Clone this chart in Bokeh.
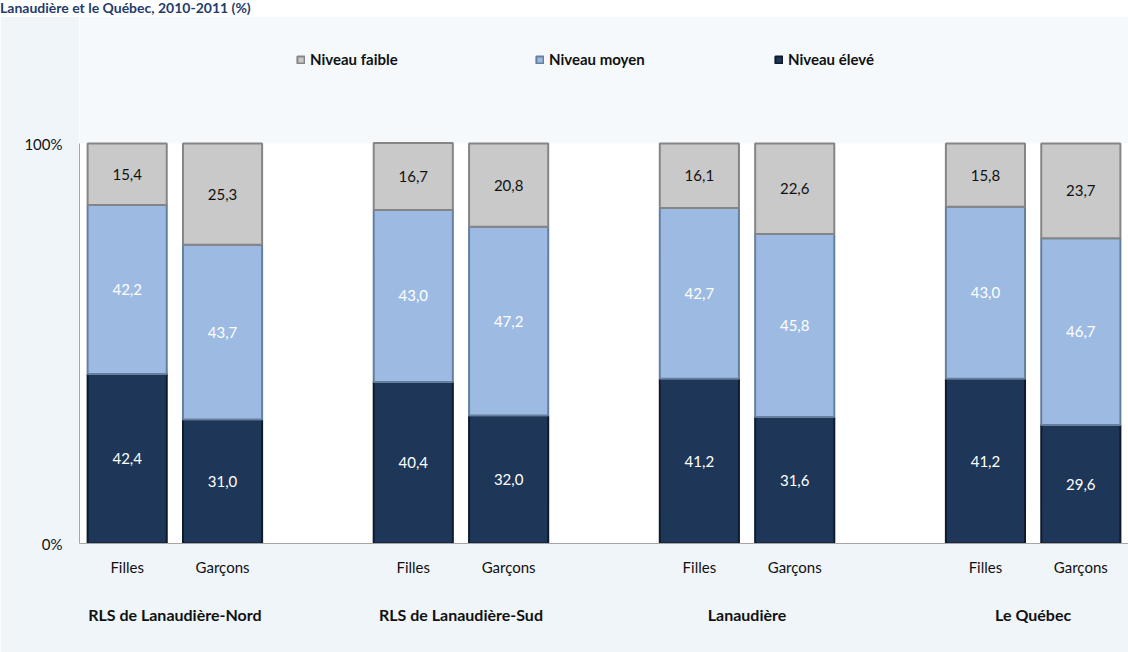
from bokeh.plotting import figure
from bokeh.models import (ColumnDataSource, FixedTicker, LinearAxis, Legend,
                          LegendItem, Range1d, Div, BoxAnnotation)
from bokeh.layouts import column
from bokeh.core.properties import value
from bokeh.embed import file_html
from bokeh.resources import INLINE

# ---------------- data ----------------
regions = ["RLS de Lanaudière-Nord", "RLS de Lanaudière-Sud", "Lanaudière", "Le Québec"]
sexes = ["Filles", "Garçons"]
eleve = [42.4, 31.0, 40.4, 32.0, 41.2, 31.6, 41.2, 29.6]
moyen = [42.2, 43.7, 43.0, 47.2, 42.7, 45.8, 43.0, 46.7]
faible = [15.4, 25.3, 16.7, 20.8, 16.1, 22.6, 15.8, 23.7]
series_names = ["Niveau faible", "Niveau moyen", "Niveau élevé"]
y_ticks = [0, 100]
y_tick_labels = ["0%", "100%"]
title_text = "Lanaudière et le Québec, 2010-2011 (%)"

FONT = "Lato"

# positions: two bars per region, one empty slot between regions
xs = []
for gi in range(len(regions)):
    for si in range(len(sexes)):
        xs.append(gi * 3 + si)
group_centers = [gi * 3 + 0.5 for gi in range(len(regions))]

def fr(v):
    return f"{v:.1f}".replace(".", ",")

b0 = [0.0] * len(xs)
t0 = eleve
b1 = eleve
t1 = [e + m for e, m in zip(eleve, moyen)]
b2 = t1
t2 = [a + f for a, f in zip(t1, faible)]

src = ColumnDataSource(dict(
    x=xs, b0=b0, t0=t0, b1=b1, t1=t1, b2=b2, t2=t2,
    y0=[(a + b) / 2 for a, b in zip(b0, t0)],
    y1=[(a + b) / 2 for a, b in zip(b1, t1)],
    y2=[(a + b) / 2 for a, b in zip(b2, t2)],
    l0=[fr(v) for v in eleve],
    l1=[fr(v) for v in moyen],
    l2=[fr(v) for v in faible],
))

TITLE_H = 16
FIG_H = 652 - TITLE_H
BOTTOM = 109
frame_h = FIG_H - BOTTOM          # frame starts at the top of the figure
px_per_unit = 4.0                  # 100 % -> 400 px
y_end = frame_h / px_per_unit

p = figure(width=1128, height=FIG_H, output_backend="svg", toolbar_location=None,
           x_range=Range1d(-0.5, 10.5), y_range=Range1d(0, y_end),
           min_border_left=79, min_border_right=0, min_border_top=0,
           min_border_bottom=BOTTOM, x_axis_location=None, y_axis_location=None)
p.background_fill_color = "#ffffff"
p.border_fill_color = "#eff5f9"
p.outline_line_color = None
p.xgrid.visible = False
p.ygrid.visible = False

# soft background above the plotting area (legend zone)
p.add_layout(BoxAnnotation(bottom=y_ticks[-1], fill_color="#f6f9fc", fill_alpha=1.0,
                           line_alpha=0, level="underlay"))

W = 0.83
r_e = p.vbar(x="x", bottom="b0", top="t0", width=W, source=src,
             fill_color="#1e3758", line_color="#0e1b2d", line_width=2)
r_m = p.vbar(x="x", bottom="b1", top="t1", width=W, source=src,
             fill_color="#9dbbe2", line_color="#667f9f", line_width=2)
r_f = p.vbar(x="x", bottom="b2", top="t2", width=W, source=src,
             fill_color="#c9c9c9", line_color="#858585", line_width=2)

tk = dict(text_font=value(FONT), text_font_size="15px", text_align="center",
          text_baseline="middle")
p.text(x="x", y="y0", text="l0", source=src, text_color="#ffffff", **tk)
p.text(x="x", y="y1", text="l1", source=src, text_color="#ffffff", **tk)
p.text(x="x", y="y2", text="l2", source=src, text_color="#111111", **tk)

# y axis (line only between 0 and 100 %)
yax = LinearAxis(ticker=FixedTicker(ticks=y_ticks), bounds=(y_ticks[0], y_ticks[-1]),
                 major_label_overrides={t: l for t, l in zip(y_ticks, y_tick_labels)})
yax.axis_line_color = "#a6a6a6"
yax.major_tick_line_color = None
yax.minor_tick_line_color = None
yax.major_tick_out = 0
yax.major_label_standoff = 17
yax.major_label_text_font = FONT
yax.major_label_text_font_size = "15px"
yax.major_label_text_color = "#111111"
p.add_layout(yax, "left")

# x axis: sexes
xax = LinearAxis(ticker=FixedTicker(ticks=xs),
                 major_label_overrides={x: sexes[i % 2] for i, x in enumerate(xs)})
xax.axis_line_color = "#a6a6a6"
xax.major_tick_line_color = None
xax.minor_tick_line_color = None
xax.major_tick_out = 0
xax.major_label_standoff = 14
xax.major_label_text_font = FONT
xax.major_label_text_font_size = "15px"
xax.major_label_text_color = "#111111"
p.add_layout(xax, "below")

# x axis: regions
gax = LinearAxis(ticker=FixedTicker(ticks=group_centers),
                 major_label_overrides={c: r for c, r in zip(group_centers, regions)})
gax.axis_line_color = None
gax.major_tick_line_color = None
gax.minor_tick_line_color = None
gax.major_tick_out = 0
gax.major_label_standoff = 26
gax.major_label_text_font = FONT
gax.major_label_text_font_size = "16px"
gax.major_label_text_font_style = "bold"
gax.major_label_text_color = "#111111"
p.add_layout(gax, "below")

legend = Legend(items=[LegendItem(label=series_names[0], renderers=[r_f]),
                       LegendItem(label=series_names[1], renderers=[r_m]),
                       LegendItem(label=series_names[2], renderers=[r_e])],
                orientation="horizontal", location=(217, frame_h - 52),
                glyph_width=9, glyph_height=9, label_standoff=5,
                label_width=108, spacing=117, padding=0, margin=0,
                border_line_color=None, background_fill_alpha=0,
                label_text_font=FONT, label_text_font_size="15px",
                label_text_font_style="bold", label_text_color="#111111")
p.add_layout(legend, "center")

title = Div(text=title_text, width=1128, height=TITLE_H, margin=(0, 0, 0, 0),
            styles={"font-family": FONT, "font-size": "14px", "font-weight": "bold",
                    "color": "#1f3c6e", "line-height": "16px",
                    "background-color": "#ffffff", "padding": "0px"})

layout = column(title, p, spacing=0)
open("out.html", "w").write(file_html(layout, INLINE))
